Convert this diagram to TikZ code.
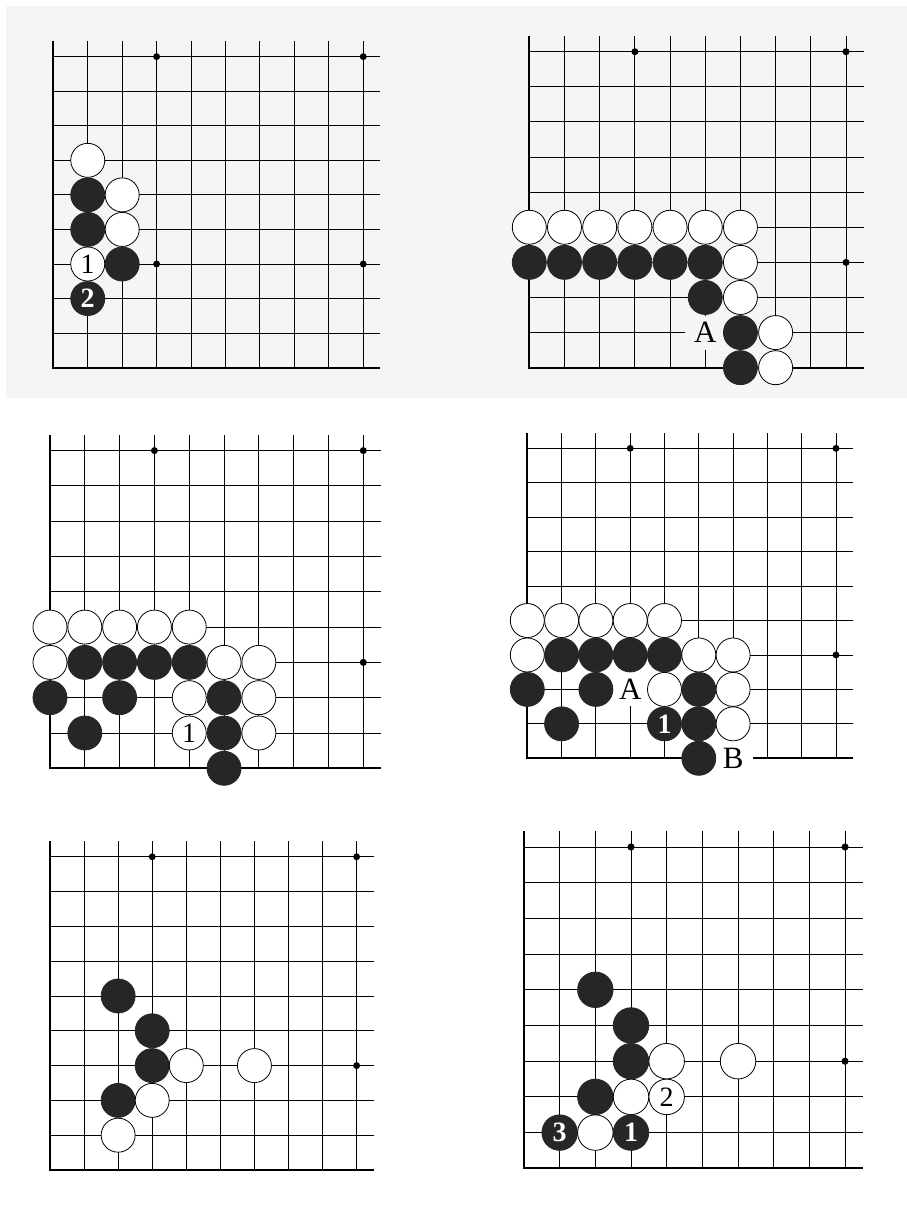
\documentclass[tikz,border=0pt]{standalone}
\usepackage{fontspec}
\setmainfont{Liberation Serif}

\begin{document}
\begin{tikzpicture}[x=1pt, y=1pt,
    board/.style={line width=0.9pt, step={(1,1)}},
    boardedge/.style={line width=2.2pt},
    wstone/.style={circle, draw, fill=white, line width=0.8pt, minimum size=34pt, inner sep=0pt, font=\fontsize{28}{28}\selectfont},
    bstone/.style={circle, draw=black!85, fill=black!85, line width=0.8pt, minimum size=34pt, inner sep=0pt, text=white, font=\bfseries\fontsize{28}{28}\selectfont},
    pointlbl/.style={fill=white, inner sep=0pt, minimum width=40pt, minimum height=34pt, font=\fontsize{31}{31}\selectfont}]
    \useasboundingbox (0,0) rectangle (907,1210);
    \fill [black!4] (6,812) rectangle (907,1204);

    % top left
    \begin{scope}[shift={(53.3,842.3)}, x=34.44pt, y=34.56pt]
    \draw [board] (0,0) grid (9.5,9.45);
    \draw [boardedge] (0,9.45) -- (0,0) -- (9.5,0);
    \fill (3,9) circle [radius=0.1];
    \fill (9,9) circle [radius=0.1];
    \fill (3,3) circle [radius=0.1];
    \fill (9,3) circle [radius=0.1];
    \node [wstone] (aw1) at (1,6) {};
    \node [bstone] (ab1) at (1,5) {};
    \node [wstone] (aw2) at (2,5) {};
    \node [bstone] (ab2) at (1,4) {};
    \node [wstone] (aw3) at (2,4) {};
    \node [wstone] (am1) at (1,3) {1};
    \node [bstone] (ab3) at (2,3) {};
    \node [bstone] (am2) at (1,2) {2};
    \end{scope}

    % top right
    \begin{scope}[shift={(529.3,842.3)}, x=35.19pt, y=35.11pt,
        pointlbl/.append style={fill=black!4}]
    \draw [board] (0,0) grid (9.5,9.45);
    \draw [boardedge] (0,9.45) -- (0,0) -- (9.5,0);
    \fill (3,9) circle [radius=0.1];
    \fill (9,9) circle [radius=0.1];
    \fill (9,3) circle [radius=0.1];
    \node [pointlbl] (bA) at (5,1) {A};
    \node [wstone] (bw1) at (0,4) {};
    \node [wstone] (bw2) at (1,4) {};
    \node [wstone] (bw3) at (2,4) {};
    \node [wstone] (bw4) at (3,4) {};
    \node [wstone] (bw5) at (4,4) {};
    \node [wstone] (bw6) at (5,4) {};
    \node [wstone] (bw7) at (6,4) {};
    \node [bstone] (bb1) at (0,3) {};
    \node [bstone] (bb2) at (1,3) {};
    \node [bstone] (bb3) at (2,3) {};
    \node [bstone] (bb4) at (3,3) {};
    \node [bstone] (bb5) at (4,3) {};
    \node [bstone] (bb6) at (5,3) {};
    \node [wstone] (bw8) at (6,3) {};
    \node [bstone] (bb7) at (5,2) {};
    \node [wstone] (bw9) at (6,2) {};
    \node [bstone] (bb8) at (6,1) {};
    \node [wstone] (bw10) at (7,1) {};
    \node [bstone] (bb9) at (6,0) {};
    \node [wstone] (bw11) at (7,0) {};
    \end{scope}

    % middle left
    \begin{scope}[shift={(50,441.7)}, x=34.81pt, y=35.3pt]
    \draw [board] (0,0) grid (9.5,9.45);
    \draw [boardedge] (0,9.45) -- (0,0) -- (9.5,0);
    \fill (3,9) circle [radius=0.1];
    \fill (9,9) circle [radius=0.1];
    \fill (9,3) circle [radius=0.1];
    \node [wstone] (cw1) at (0,4) {};
    \node [wstone] (cw2) at (1,4) {};
    \node [wstone] (cw3) at (2,4) {};
    \node [wstone] (cw4) at (3,4) {};
    \node [wstone] (cw5) at (4,4) {};
    \node [wstone] (cw6) at (0,3) {};
    \node [bstone] (cb1) at (1,3) {};
    \node [bstone] (cb2) at (2,3) {};
    \node [bstone] (cb3) at (3,3) {};
    \node [bstone] (cb4) at (4,3) {};
    \node [wstone] (cw7) at (5,3) {};
    \node [wstone] (cw8) at (6,3) {};
    \node [bstone] (cb5) at (0,2) {};
    \node [bstone] (cb6) at (2,2) {};
    \node [wstone] (cw9) at (4,2) {};
    \node [bstone] (cb7) at (5,2) {};
    \node [wstone] (cw10) at (6,2) {};
    \node [bstone] (cb8) at (1,1) {};
    \node [wstone] (cm1) at (4,1) {1};
    \node [bstone] (cb9) at (5,1) {};
    \node [wstone] (cw11) at (6,1) {};
    \node [bstone] (cb10) at (5,0) {};
    \end{scope}

    % middle right
    \begin{scope}[shift={(527.3,451.7)}, x=34.3pt, y=34.44pt]
    \draw [board] (0,0) grid (9.5,9.45);
    \draw [boardedge] (0,9.45) -- (0,0) -- (9.5,0);
    \fill (3,9) circle [radius=0.1];
    \fill (9,9) circle [radius=0.1];
    \fill (9,3) circle [radius=0.1];
    \node [pointlbl] (dA) at (3,2) {A};
    \node [pointlbl] (dB) at (6,0) {B};
    \node [wstone] (dw1) at (0,4) {};
    \node [wstone] (dw2) at (1,4) {};
    \node [wstone] (dw3) at (2,4) {};
    \node [wstone] (dw4) at (3,4) {};
    \node [wstone] (dw5) at (4,4) {};
    \node [wstone] (dw6) at (0,3) {};
    \node [bstone] (db1) at (1,3) {};
    \node [bstone] (db2) at (2,3) {};
    \node [bstone] (db3) at (3,3) {};
    \node [bstone] (db4) at (4,3) {};
    \node [wstone] (dw7) at (5,3) {};
    \node [wstone] (dw8) at (6,3) {};
    \node [bstone] (db5) at (0,2) {};
    \node [bstone] (db6) at (2,2) {};
    \node [wstone] (dw9) at (4,2) {};
    \node [bstone] (db7) at (5,2) {};
    \node [wstone] (dw10) at (6,2) {};
    \node [bstone] (db8) at (1,1) {};
    \node [bstone] (dm1) at (4,1) {1};
    \node [bstone] (db9) at (5,1) {};
    \node [wstone] (dw11) at (6,1) {};
    \node [bstone] (db10) at (5,0) {};
    \end{scope}

    % bottom left
    \begin{scope}[shift={(50,40)}, x=34.07pt, y=34.8pt]
    \draw [board] (0,0) grid (9.5,9.45);
    \draw [boardedge] (0,9.45) -- (0,0) -- (9.5,0);
    \fill (3,9) circle [radius=0.1];
    \fill (9,9) circle [radius=0.1];
    \fill (9,3) circle [radius=0.1];
    \node [bstone] (eb1) at (2,5) {};
    \node [bstone] (eb2) at (3,4) {};
    \node [bstone] (eb3) at (3,3) {};
    \node [wstone] (ew1) at (4,3) {};
    \node [wstone] (ew2) at (6,3) {};
    \node [bstone] (eb4) at (2,2) {};
    \node [wstone] (ew3) at (3,2) {};
    \node [wstone] (ew4) at (2,1) {};
    \end{scope}

    % bottom right
    \begin{scope}[shift={(524,41.7)}, x=35.67pt, y=35.7pt,
        wstone/.append style={minimum size=35.5pt},
        bstone/.append style={minimum size=35.5pt}]
    \draw [board] (0,0) grid (9.5,9.45);
    \draw [boardedge] (0,9.45) -- (0,0) -- (9.5,0);
    \fill (3,9) circle [radius=0.1];
    \fill (9,9) circle [radius=0.1];
    \fill (9,3) circle [radius=0.1];
    \node [bstone] (fb1) at (2,5) {};
    \node [bstone] (fb2) at (3,4) {};
    \node [bstone] (fb3) at (3,3) {};
    \node [wstone] (fw1) at (4,3) {};
    \node [wstone] (fw2) at (6,3) {};
    \node [bstone] (fb4) at (2,2) {};
    \node [wstone] (fw3) at (3,2) {};
    \node [wstone] (fm2) at (4,2) {2};
    \node [bstone] (fm3) at (1,1) {3};
    \node [wstone] (fw4) at (2,1) {};
    \node [bstone] (fm1) at (3,1) {1};
    \end{scope}
\end{tikzpicture}
\end{document}
